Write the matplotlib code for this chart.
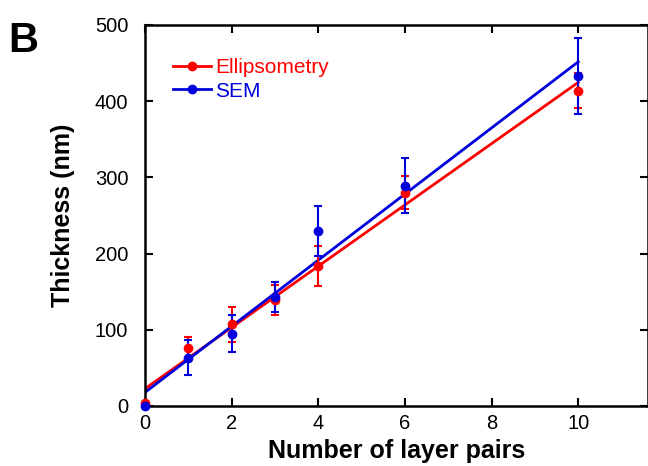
import numpy as np
import matplotlib
matplotlib.use("Agg")
import matplotlib.pyplot as plt

plt.rcParams['font.family'] = ['Liberation Sans', 'DejaVu Sans']

layers = [0, 1, 2, 3, 4, 6, 10]
ellip = [4, 76, 107, 139, 184, 280, 414]
ellip_err = [0, 15, 23, 20, 26, 22, 23]
sem = [0, 63, 95, 143, 230, 289, 433]
sem_err = [0, 23, 24, 20, 33, 36, 50]

xticks = [0, 2, 4, 6, 8, 10]
yticks = [0, 100, 200, 300, 400, 500]

RED = '#ff0000'
BLUE = '#0000dd'

fig = plt.figure(figsize=(6.48, 4.66), dpi=100)
ax = fig.add_axes([0.2238, 0.1288, 0.7755, 0.8176])

x = np.array(layers, dtype=float)
xfit = np.array([0, 10], dtype=float)

for vals, err, col, lab in [(ellip, ellip_err, RED, 'Ellipsometry'),
                            (sem, sem_err, BLUE, 'SEM')]:
    vals = np.array(vals, dtype=float)
    ax.errorbar(x, vals, yerr=err, fmt='o', color=col, ms=6,
                elinewidth=1.5, capsize=3, capthick=1.5, zorder=3,
                clip_on=False)
    k, b = np.polyfit(x, vals, 1)
    ax.plot(xfit, k * xfit + b, color=col, lw=2.0, zorder=2)
    ax.plot([], [], color=col, lw=2.0, marker='o', ms=6, label=lab)

ax.set_xlim(0, 11.6)
ax.set_ylim(0, 500)
ax.set_xticks(xticks)
ax.set_yticks(yticks)
ax.tick_params(direction='in', length=6, width=1.5, labelsize=14.5,
               top=True, right=True, pad=6)
ax.tick_params(axis='y', pad=12)
for s in ax.spines.values():
    s.set_linewidth(1.8)

ax.set_xlabel('Number of layer pairs', fontsize=18, fontweight='bold', labelpad=4)
ax.set_ylabel('Thickness (nm)', fontsize=18, fontweight='bold', labelpad=14)

leg = ax.legend(loc='upper left', bbox_to_anchor=(0.04, 0.935), frameon=False,
                fontsize=15, handlelength=1.8, handletextpad=0.2,
                labelspacing=0.22, borderaxespad=0)
for t, c in zip(leg.get_texts(), [RED, BLUE]):
    t.set_color(c)

fig.text(0.013, 0.955, 'B', fontsize=30, fontweight='bold', va='top', ha='left')

fig.savefig('out.png', dpi=100)
